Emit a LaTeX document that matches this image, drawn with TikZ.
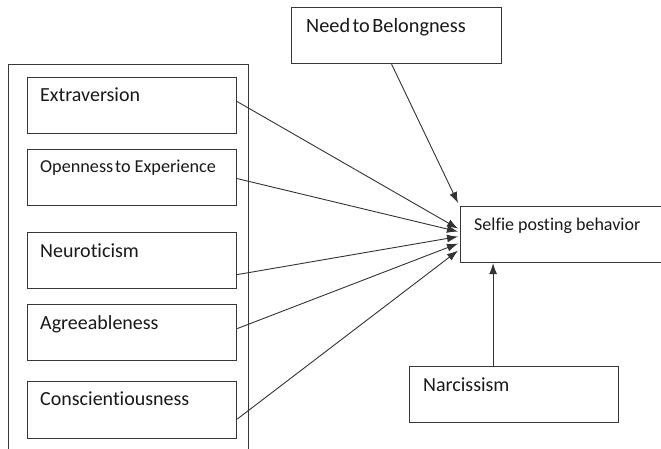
\documentclass[tikz,border=0pt]{standalone}
\usepackage{fontspec}
\setmainfont{Carlito}[Ligatures=NoCommon]
\usetikzlibrary{arrows.meta}
\begin{document}
\begin{tikzpicture}[x=1pt,y=-1pt,
  box/.style={draw=black!78,line width=1.2pt,rectangle,inner sep=0pt,anchor=north west},
  lbl/.style={anchor=base west,inner sep=0pt,text=black!90,font=\fontsize{20}{22}\selectfont},
  conn/.style={draw=black!80,line width=0.9pt,-{Latex[length=11pt,width=8pt]}}]
\clip (0,0) rectangle (661,449);
\fill[white] (0,0) rectangle (661,449);
% outer frame
\node[box,minimum width=240pt,minimum height=420pt] (frame) at (8,64) {};
% trait boxes
\node[box,minimum width=209pt,minimum height=56pt] (ext) at (27,77) {};
\node[box,minimum width=209pt,minimum height=56pt] (ope) at (27,149) {};
\node[box,minimum width=209pt,minimum height=56pt] (neu) at (27,232) {};
\node[box,minimum width=209pt,minimum height=56pt] (agr) at (27,304) {};
\node[box,minimum width=209pt,minimum height=57pt] (con) at (27,381) {};
\node[box,minimum width=210pt,minimum height=56pt] (need) at (291,7) {};
\node[box,minimum width=260pt,minimum height=56pt] (sel) at (460,206) {};
\node[box,minimum width=209pt,minimum height=56pt] (nar) at (409,366) {};
% labels
\node[lbl] (t1) at (40,102) {Extraversion};
\node[lbl,font=\fontsize{18.2}{20}\selectfont] (t2) at (40,173) {Openness\hspace{0.1em}to Experience};
\node[lbl] (t3) at (40,257) {Neuroticism};
\node[lbl] (t4) at (40,329) {Agreeableness};
\node[lbl] (t5) at (40,405) {Conscientiousness};
\node[lbl,font=\fontsize{20.3}{22}\selectfont] (t6) at (306,33) {Need\hspace{0.12em}to\hspace{0.12em}Belongness};
\node[lbl,font=\fontsize{18}{20}\selectfont] (t7) at (474,230) {Selfie posting behavior};
\node[lbl] (t8) at (423,391) {Narcissism};
% connectors
\draw[conn] ([yshift=4pt]ext.east) -- ([xshift=-2pt,yshift=6pt]sel.west);
\draw[conn] ([yshift=-1pt]ope.east) -- ([xshift=-2pt,yshift=3pt]sel.west);
\draw[conn] ([yshift=-14pt]neu.east) -- ([xshift=-2pt,yshift=-2pt]sel.west);
\draw[conn] ([yshift=4pt]agr.east) -- ([xshift=-2pt,yshift=-9pt]sel.west);
\draw[conn] ([yshift=-9pt]con.east) -- ([xshift=-2pt,yshift=-16pt]sel.west);
\draw[conn] ([xshift=-5pt]need.south) -- ([xshift=-2pt,yshift=3pt]sel.north west);
\draw[conn] ([xshift=-21pt]nar.north) -- ([xshift=-21pt]nar.north |- sel.south);
\end{tikzpicture}
\end{document}
